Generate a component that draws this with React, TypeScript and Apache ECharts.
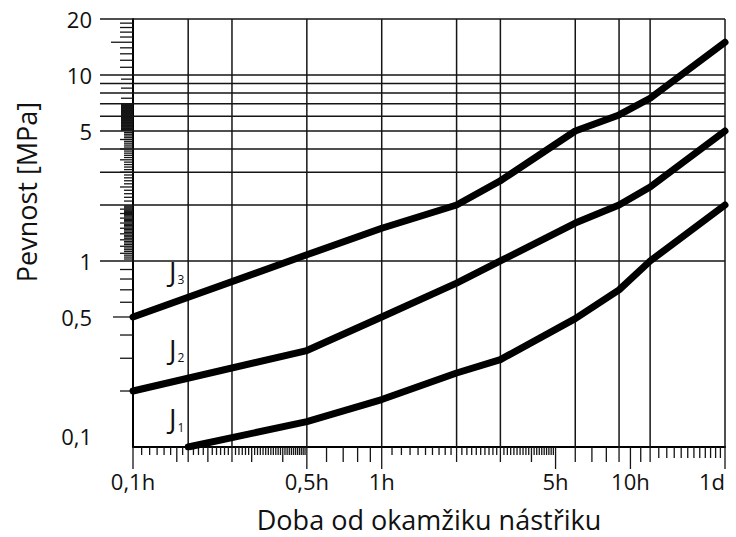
import React, { useEffect, useRef } from "react";
import * as echarts from "echarts";

// ---- data (time in hours, strength in MPa) ----
const timeJ1 = [1 / 6, 0.5, 1, 2, 3, 6, 9, 12, 24];
const mpaJ1 = [0.1, 0.137, 0.18, 0.25, 0.295, 0.49, 0.7, 1.0, 2.0];
const timeJ2 = [0.1, 0.5, 1, 2, 3, 6, 9, 12, 24];
const mpaJ2 = [0.2, 0.33, 0.5, 0.76, 1.0, 1.6, 2.0, 2.5, 5.0];
const timeJ3 = [0.1, 0.5, 1, 2, 3, 6, 9, 12, 24];
const mpaJ3 = [0.5, 1.08, 1.5, 2.0, 2.7, 5.0, 6.1, 7.5, 15];

const xLabelValues = [0.1, 0.5, 1, 5, 10, 24];
const xLabelTexts = ["0,1h", "0,5h", "1h", "5h", "10h", "1d"];
const yLabelValues = [0.1, 0.5, 1, 5, 10, 20];
const yLabelTexts = ["0,1", "0,5", "1", "5", "10", "20"];

// grid lines (values on the axes)
const xGridHours = [1 / 6, 0.25, 0.5, 1, 2, 3, 6, 9, 12, 24];
const yGridMPa = [1, 2, 3, 4, 5, 6, 7, 8, 9, 10, 20];

// curve name labels: [subscript, time, MPa]
const curveLabels: [string, number, number][] = [
  ["1", 0.15, 0.143],
  ["2", 0.15, 0.337],
  ["3", 0.15, 0.884],
];

const FONT = "'Open Sans', 'DejaVu Sans', sans-serif";

function buildXTicks(): [number, number][] {
  const t: [number, number][] = [];
  for (let m = 6.5; m < 30; m += 0.5) {
    const h = m / 60;
    const med = [9, 10, 12, 15, 18, 24].includes(m);
    t.push([h, med ? 15 : 8]);
  }
  for (let k = 6; k <= 9; k++) t.push([k / 10, 15]);
  for (let k = 11; k < 50; k++) {
    if (k === 20 || k === 30 || k === 40) t.push([k / 10, 15]);
    else t.push([k / 10, 8]);
  }
  for (let h = 6; h < 24; h++) {
    if (h === 10) continue;
    t.push([h, h <= 12 ? 15 : 11]);
  }
  [0.1, 0.5, 1, 5, 10, 24].forEach((v) => t.push([v, 22]));
  return t;
}

function buildYTicks(): [number, number][] {
  const t: [number, number][] = [];
  for (let k = 2; k <= 9; k++) t.push([k / 10, k === 5 ? 20 : 13]);
  for (let k = 41; k < 80; k++) t.push([k / 40, k % 4 === 0 ? 13 : 9]);
  for (let k = 21; k < 50; k++) t.push([k / 10, k % 5 === 0 ? 13 : 9]);
  for (let k = 101; k < 140; k++) t.push([k / 20, 12]);
  [7.5, 8.5, 9.5].forEach((v) => t.push([v, 12]));
  for (let k = 11; k < 20; k++) t.push([k, k === 15 ? 22 : 13]);
  return t;
}

const xTicks = buildXTicks();
const yTicks = buildYTicks();

export default function App() {
  const ref = useRef<HTMLDivElement>(null);

  useEffect(() => {
    if (!ref.current) return;
    const chart = echarts.init(ref.current, null, { renderer: "svg" });

    const pairs = (xs: number[], ys: number[]) => xs.map((x, i) => [x, ys[i]]);
    const curveStyle = {
      type: "line" as const,
      symbol: "none",
      silent: true,
      z: 5,
      lineStyle: { color: "#000", width: 7, cap: "round", join: "round" },
    };

    const option: any = {
      animation: false,
      backgroundColor: "#fff",
      grid: {
        left: 133,
        right: 11,
        top: 19,
        bottom: 90,
        containLabel: false,
        outerBoundsMode: "none",
      },
      graphic: [
        {
          type: "text",
          x: 26,
          y: 192,
          rotation: Math.PI / 2,
          style: {
            text: "Pevnost [MPa]",
            align: "center",
            verticalAlign: "middle",
            fontSize: 27,
            fontFamily: FONT,
            fill: "#111",
          },
        },
      ],
      xAxis: {
        type: "log",
        logBase: 10,
        min: 0.1,
        max: 24,
        axisLine: { show: true, lineStyle: { color: "#000", width: 2 } },
        axisTick: { show: false },
        splitLine: { show: false },
        minorTick: { show: false },
        axisLabel: {
          customValues: xLabelValues,
          margin: 23,
          fontSize: 22,
          fontFamily: FONT,
          color: "#111",
          alignMaxLabel: "right",
          formatter: (v: number) => {
            const i = xLabelValues.findIndex((a) => Math.abs(a - v) / a < 1e-6);
            return i >= 0 ? xLabelTexts[i] : "";
          },
        },
        name: "Doba od okamžiku nástřiku",
        nameLocation: "middle",
        nameGap: 59,
        nameTextStyle: { fontSize: 27, fontFamily: FONT, color: "#111" },
      },
      yAxis: {
        type: "log",
        logBase: 10,
        min: 0.1,
        max: 20,
        axisLine: { show: true, lineStyle: { color: "#000", width: 2 } },
        axisTick: { show: false },
        splitLine: { show: false },
        minorTick: { show: false },
        axisLabel: {
          customValues: yLabelValues,
          margin: 41,
          fontSize: 22,
          fontFamily: FONT,
          color: "#111",
          verticalAlignMinLabel: "bottom",
          formatter: (v: number) => {
            const i = yLabelValues.findIndex((a) => Math.abs(a - v) / a < 1e-6);
            return i >= 0 ? yLabelTexts[i] : "";
          },
        },
      },
      series: [
        {
          type: "custom",
          silent: true,
          clip: false,
          z: 2,
          data: [[1, 1]],
          renderItem: (_params: any, api: any) => {
            const X = (h: number) => api.coord([h, 1])[0];
            const Y = (m: number) => api.coord([1, m])[1];
            const xL = X(0.1);
            const xR = X(24);
            const yB = Y(0.1);
            const yT = Y(20);
            const children: any[] = [];
            const ln = (x1: number, y1: number, x2: number, y2: number, w: number) =>
              children.push({
                type: "line",
                shape: { x1, y1, x2, y2 },
                style: { stroke: "#151515", lineWidth: w },
              });
            xGridHours.forEach((h) => ln(X(h), yT, X(h), yB, 1.5));
            yGridMPa.forEach((m) => ln(xL - 33, Y(m), xR, Y(m), 1.6));
            xTicks.forEach(([h, len]) => ln(X(h), yB, X(h), yB + len, 1.3));
            yTicks.forEach(([m, len]) => ln(xL - len, Y(m), xL, Y(m), 1.3));
            curveLabels.forEach(([sub, h, m]) =>
              children.push({
                type: "text",
                x: X(h),
                y: Y(m),
                style: {
                  text: `{j|J}{s|${sub}}`,
                  align: "center",
                  verticalAlign: "middle",
                  rich: {
                    j: { fontSize: 28, fontFamily: FONT, fill: "#111" },
                    s: {
                      fontSize: 12,
                      fontFamily: FONT,
                      fill: "#111",
                      padding: [18, 0, 0, 1],
                    },
                  },
                },
              })
            );
            return { type: "group", children };
          },
        },
        { ...curveStyle, name: "J1", data: pairs(timeJ1, mpaJ1) },
        { ...curveStyle, name: "J2", data: pairs(timeJ2, mpaJ2) },
        { ...curveStyle, name: "J3", data: pairs(timeJ3, mpaJ3) },
      ],
    };

    chart.setOption(option);
    return () => chart.dispose();
  }, []);

  return (
    <div
      ref={ref}
      style={{ position: "fixed", left: 0, top: 0, width: 736, height: 537 }}
    />
  );
}
